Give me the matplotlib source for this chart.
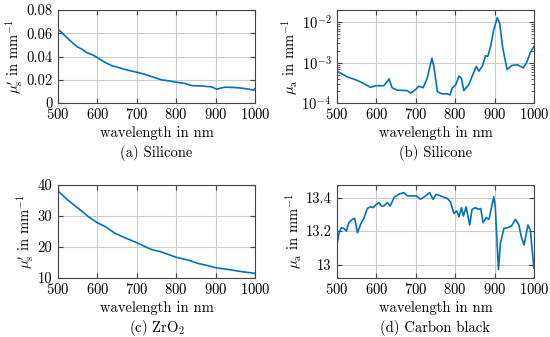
import matplotlib
matplotlib.use("Agg")
import matplotlib.pyplot as plt
from matplotlib.ticker import FuncFormatter, LogLocator, NullFormatter

plt.rcParams["font.family"] = "serif"
plt.rcParams["font.serif"] = ["cmr10"]
plt.rcParams["mathtext.fontset"] = "cm"
plt.rcParams["axes.formatter.use_mathtext"] = True
FS = 10.5

# (a) Silicone, reduced scattering
wl_a = [500, 508, 518, 530, 548, 560, 573, 588, 600, 619, 636, 655, 674, 700,
        718, 737, 763, 780, 800, 820, 839, 865, 890, 903, 912, 924, 945, 966,
        985, 996, 1000]
mus_a = [0.0634, 0.0612, 0.0577, 0.0540, 0.0486, 0.0465, 0.0434, 0.0415, 0.0391,
         0.0351, 0.0323, 0.0305, 0.0286, 0.0266, 0.0250, 0.0229, 0.0200, 0.0192,
         0.0180, 0.0170, 0.0151, 0.0147, 0.0140, 0.0120, 0.0128, 0.0137, 0.0135,
         0.0129, 0.0120, 0.0111, 0.0125]

# (b) Silicone, absorption (log10 values)
wl_b = [500, 526, 552, 569, 585, 598, 619, 628, 632, 640, 653, 678, 687, 700,
        708, 719, 729, 741, 746, 755, 767, 780, 787, 793, 801, 810, 816, 822,
        835, 843, 854, 860, 869, 877, 883, 890, 898, 907, 913, 921, 932, 944,
        958, 973, 981, 991, 1000]
log_mua_b = [-3.21, -3.35, -3.44, -3.52, -3.61, -3.57, -3.57, -3.46, -3.40, -3.62,
             -3.68, -3.69, -3.75, -3.66, -3.58, -3.62, -3.38, -2.89, -3.09, -3.72,
             -3.77, -3.77, -3.80, -3.62, -3.56, -3.33, -3.39, -3.69, -3.54, -3.34,
             -3.09, -3.21, -3.09, -2.83, -2.84, -2.60, -2.19, -1.89, -2.02, -2.64,
             -3.17, -3.07, -3.05, -3.13, -3.01, -2.75, -2.60]
mua_b = [10 ** v for v in log_mua_b]

# (c) ZrO2, reduced scattering
wl_c = [500, 520, 535, 560, 577, 600, 620, 645, 670, 700, 737, 760, 800, 830,
        856, 880, 901, 930, 949, 970, 1000]
mus_c = [38.1, 35.7, 34.1, 31.6, 29.8, 27.8, 26.6, 24.4, 23.0, 21.4, 19.2, 18.5,
         16.7, 15.8, 14.7, 14.0, 13.3, 12.8, 12.4, 12.0, 11.5]

# (d) Carbon black, absorption
wl_d = [500, 505, 511, 517, 524, 530, 539, 545, 552, 560, 569, 577, 585, 592,
        600, 607, 613, 619, 628, 635, 645, 657, 670, 678, 695, 702, 712, 725,
        735, 744, 752, 763, 780, 788, 797, 804, 810, 816, 821, 828, 837, 843,
        852, 859, 865, 871, 879, 886, 890, 898, 902, 907, 910, 915, 924, 932,
        943, 953, 962, 968, 975, 985, 991, 1000]
mua_d = [13.117, 13.186, 13.22, 13.216, 13.20, 13.25, 13.27, 13.275, 13.19, 13.24,
         13.28, 13.335, 13.345, 13.34, 13.36, 13.37, 13.35, 13.35, 13.37, 13.35,
         13.40, 13.42, 13.43, 13.41, 13.41, 13.41, 13.39, 13.41, 13.43, 13.39,
         13.42, 13.41, 13.395, 13.375, 13.305, 13.32, 13.285, 13.34, 13.29, 13.345,
         13.236, 13.33, 13.34, 13.33, 13.335, 13.25, 13.28, 13.27, 13.315, 13.404,
         13.345, 13.107, 12.97, 13.127, 13.216, 13.22, 13.23, 13.27, 13.236, 13.166,
         13.117, 13.236, 13.206, 12.98]

LINE = "#0072BD"
panels = [
    ([0.1055, 0.694, 0.358, 0.276], wl_a, mus_a, r"$\mu^{\prime}_{\mathrm{s}}$ in mm$^{-1}$",
     "(a) Silicone", (0, 0.08), [0, 0.02, 0.04, 0.06, 0.08], False),
    ([0.6127, 0.694, 0.358, 0.276], wl_b, mua_b, r"$\mu_{\mathrm{a}}$ in mm$^{-1}$",
     "(b) Silicone", (1e-4, 2e-2), None, True),
    ([0.1055, 0.175, 0.358, 0.276], wl_c, mus_c, r"$\mu^{\prime}_{\mathrm{s}}$ in mm$^{-1}$",
     "(c) ZrO$_2$", (10, 40), [10, 20, 30, 40], False),
    ([0.6127, 0.175, 0.358, 0.276], wl_d, mua_d, r"$\mu_{\mathrm{a}}$ in mm$^{-1}$",
     "(d) Carbon black", (12.92, 13.475), [13, 13.2, 13.4], False),
]

fig = plt.figure(figsize=(5.5, 3.37), dpi=100)
for rect, x, y, ylab, cap, ylim, yticks, logy in panels:
    ax = fig.add_axes(rect)
    ax.plot(x, y, color=LINE, lw=1.2)
    if logy:
        ax.set_yscale("log")
        ax.yaxis.set_major_locator(LogLocator(base=10, numticks=10))
        ax.yaxis.set_minor_locator(LogLocator(base=10, subs=range(2, 10), numticks=10))
        ax.yaxis.set_minor_formatter(NullFormatter())
    else:
        ax.set_yticks(yticks)
        ax.yaxis.set_major_formatter(FuncFormatter(lambda v, p: "%g" % v))
    ax.set_ylim(*ylim)
    ax.set_xlim(500, 1000)
    ax.set_xticks(range(500, 1001, 100))
    ax.grid(True, which="major", color="#cccccc", lw=0.8)
    ax.set_axisbelow(True)
    for s in ax.spines.values():
        s.set_color("#444444")
        s.set_linewidth(0.8)
    ax.tick_params(which="both", direction="in", top=True, right=True,
                   color="#444444", labelsize=FS)
    ax.tick_params(axis="y", pad=4)
    ax.tick_params(axis="x", pad=3)
    ax.tick_params(which="major", length=3.5)
    ax.tick_params(which="minor", length=2)
    ax.set_xlabel("wavelength in nm", fontsize=FS, labelpad=3)
    ax.set_ylabel(ylab, fontsize=FS, labelpad=1)
    ax.text(0.5, -0.54, cap, transform=ax.transAxes, ha="center", va="center",
            fontsize=FS)

fig.savefig("out.png", dpi=100)
